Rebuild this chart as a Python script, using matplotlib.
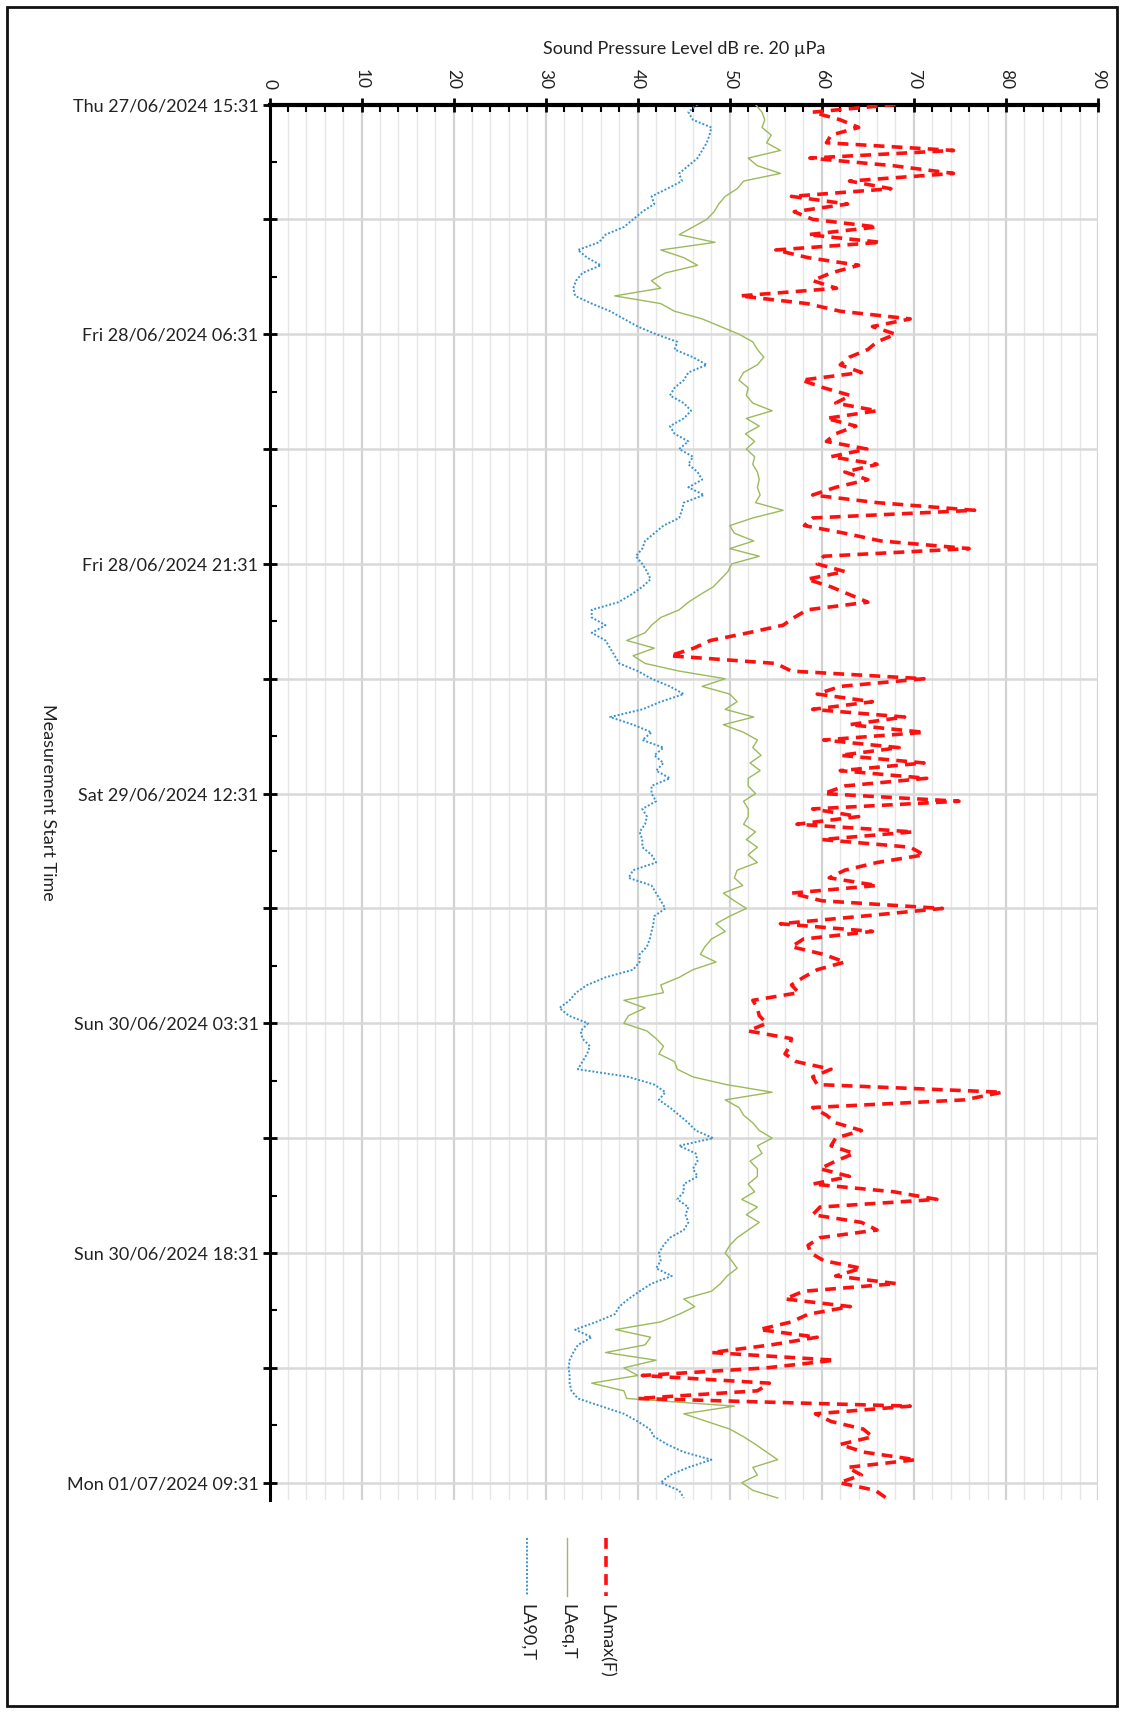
import matplotlib
matplotlib.use('Agg')
import matplotlib.pyplot as plt
from matplotlib.lines import Line2D
from matplotlib.patches import Rectangle
from matplotlib.ticker import FixedLocator, MultipleLocator, NullFormatter
import matplotlib.dates as mdates
from datetime import datetime, timedelta

plt.rcParams['font.family'] = ['Lato', 'DejaVu Sans']

# ---------------- data (30-minute samples from Thu 27/06/2024 15:31) ----------------
start_time = datetime(2024, 6, 27, 15, 31)
step_minutes = 30

la90 = [46.5, 45.5, 46, 48, 47.8, 47.5, 47, 46.5, 45.5, 44.5, 44.8, 43.2, 41.5, 41.8, 40.5, 39.5,
        38.5, 36.5, 35.8, 33.5, 34.5, 36, 34, 33.3, 33, 33.2, 35, 37, 38.5, 40, 42, 44.3,
        44, 46, 47.5, 45.5, 45, 44, 43.5, 45, 45.8, 45, 43.5, 44, 45.5, 44.5, 46, 45.5, 46.5,
        47, 45.5, 47.2, 45, 44.8, 44.5, 42.8, 41.8, 40.8, 40.5, 39.8, 40.5, 41, 41.4, 40.5, 39.3,
        37.9, 35, 35, 36.5, 35, 36.5, 37, 37.5, 38, 40, 41.5, 43.5, 45, 42.5, 40.5, 37, 39.5,
        41.5, 40.5, 42.8, 41.8, 42.8, 42, 43.5, 41.5, 41.5, 42, 40.5, 41, 40.8, 40.2, 40.5, 40.5,
        41.5, 42, 39.5, 39, 41.5, 42, 42.5, 43, 41.8, 41.7, 41.5, 41.3, 41, 40.2, 40.2, 39.5,
        36.5, 34.5, 33.3, 32.6, 31.5, 32.5, 34.6, 33.8, 34, 34.8, 34.5, 34, 33.5, 39, 41.8, 43,
        42.3, 43.5, 44.5, 45.5, 46.3, 48.2, 44.5, 46.3, 46.5, 46, 46.5, 45, 45, 44.3, 45.5, 45.2,
        45.5, 45, 43.5, 42.8, 42.3, 42.5, 42, 43.7, 41.5, 40.2, 39, 38, 37.5, 35.5, 33.2, 35, 33.5,
        33, 32.6, 32.5, 32.6, 32.6, 32.8, 33.5, 36, 38.5, 40, 41.3, 41.8, 43.2, 45, 48, 45.5,
        43.5, 42.5, 44.5, 45]

laeq = [52.8, 53.5, 53.8, 53.5, 54.5, 54, 55.5, 52, 53, 55.5, 51.5, 50.8, 49.5, 48.8, 48.3, 47.5,
        46, 44.5, 48.4, 42.5, 45, 46.5, 43, 41.5, 42.5, 37.5, 42.5, 44, 47, 49, 51, 52.5,
        53, 53.7, 53, 51.5, 51, 52, 51.8, 52.5, 54.6, 51.8, 53.2, 51.7, 52.7, 51.8, 52.7, 52.5,
        53, 53.2, 53, 53.3, 52.8, 55.8, 52.5, 50, 50.5, 52.6, 50, 53.2, 50.2, 49.8, 49, 48.2, 46.8,
        45.5, 44.5, 42.5, 41.5, 40.8, 38.8, 41.8, 39.5, 40.8, 44.5, 49.5, 47, 50, 50.8, 49.5, 52.6,
        49.3, 51.5, 53, 52.5, 53.4, 52.2, 53.3, 52, 52, 52.8, 51.5, 52, 52, 51.5, 52.8, 51.8, 53,
        52, 53, 50.8, 50.5, 51.4, 49.3, 50.5, 51.8, 50, 48.5, 49.5, 48, 47.3, 46.8, 48.5, 46,
        44.5, 42.5, 42.8, 38.5, 40.8, 39, 38.5, 41, 42, 42.8, 42.3, 44, 44.3, 46, 49.6, 54.6,
        49.5, 51, 51.5, 52.5, 53.2, 54.6, 53, 53.5, 52.2, 53, 53, 52, 52.7, 51.3, 53, 51.8,
        53.2, 52, 50.8, 50, 49.5, 50.2, 50.8, 49.7, 49, 48, 45, 46.2, 44.5, 42.5, 37.6, 41.4, 40.8,
        36.5, 42, 38.5, 40, 35, 38.5, 38.8, 50.5, 45, 47.5, 50, 51.5, 52.8, 54, 55.2, 52.5,
        53, 51.3, 52.5, 55.2]

lamax = [68, 59, 62, 64, 61, 60.5, 74.3, 58.7, 67.8, 74.3, 63, 67.5, 56.7, 62.8, 57, 59,
         66, 58.5, 66.4, 55, 58.5, 64, 61, 59, 61.6, 51.1, 58.4, 62, 69.6, 65.5, 68, 66,
         65, 63, 62, 64.3, 57.8, 60.2, 63.1, 61.5, 66, 60.5, 63.7, 61.5, 60.5, 64.9, 61, 66,
         62.5, 65, 61.5, 59, 66, 76.6, 59, 58.1, 62.5, 66.4, 76, 60.2, 59.5, 62.5, 58.4, 61, 63,
         65, 58.4, 57, 55.8, 52, 47.9, 46.1, 43.5, 55, 56.7, 71.1, 62, 59.5, 65.5, 59, 69,
         63, 71.1, 60.2, 68.4, 62, 71.1, 62, 71.4, 62.5, 60.2, 74.9, 59, 64, 57.3, 69.9, 60, 69.6,
         71.1, 66, 62.5, 60.8, 66, 56.7, 60, 73.1, 64.5, 55.5, 65.5, 58, 56.7, 60.2, 62.5, 59.5,
         58, 56.7, 57.5, 52.5, 53, 53.2, 54, 52, 56.7, 56.5, 56, 57.2, 61, 59, 59.5, 79.6,
         75.5, 59, 60.5, 61.5, 64.3, 61.5, 61, 63.5, 61.5, 59.8, 63, 59, 67.8, 72.5, 59.8, 59,
         64.3, 66, 59.8, 58.5, 58.8, 60.2, 64.3, 61.5, 68.1, 58, 56, 63.1, 58.5, 56.7, 53.2, 59.5, 54.5,
         48, 61.4, 54, 40.5, 54.3, 53, 40, 69.6, 59.3, 61, 64.5, 65.5, 62, 64.5, 70.2, 62.8,
         64.3, 61.9, 65.8, 67]

series_names = ['LAmax(F)', 'LAeq,T', 'LA90,T']
x_ticks = [0, 10, 20, 30, 40, 50, 60, 70, 80, 90]

times = [start_time + timedelta(minutes=step_minutes * i) for i in range(len(la90))]

# ---------------- figure ----------------
W, H = 1123, 1712
fig = plt.figure(figsize=(W / 100, H / 100), dpi=100)

def fx(px):
    return px / W

def fy(py):
    return 1 - py / H

ax_left, ax_right, ax_top, ax_bot = 269.5, 1098, 104.5, 1500
ax = fig.add_axes([fx(ax_left), fy(ax_bot), fx(ax_right - ax_left), (ax_bot - ax_top) / H])

red = '#ff1010'
green = '#9cba5a'
blue = '#3a93cf'

ax.plot(la90, times, color=blue, lw=1.4, linestyle=(0, (1, 1)), zorder=3)
ax.plot(laeq, times, color=green, lw=1.0, linestyle='-', zorder=3)
ax.plot(lamax, times, color=red, lw=2.6, linestyle=(0, (3, 2)), zorder=4)

# x axis (top)
ax.set_xlim(0, 90)
ax.xaxis.tick_top()
ax.xaxis.set_label_position('top')
ax.set_xticks(x_ticks)
ax.set_xticklabels([str(v) for v in x_ticks], rotation=-90, fontsize=12.5, color='#222222')
ax.xaxis.set_minor_locator(MultipleLocator(2))
ax.tick_params(axis='x', which='major', direction='inout', length=10, width=2, pad=6, top=True, bottom=False)
ax.tick_params(axis='x', which='minor', direction='in', length=5, width=1.5, top=True, bottom=False)
ax.set_xlabel('Sound Pressure Level dB re. 20 µPa', fontsize=13, labelpad=11, color='#222222')

# y axis (time downward)
t0 = mdates.date2num(start_time)
span_h = 91.13
ax.set_ylim(t0 + span_h / 24, t0)
major_pos = [t0 + 7.5 * k / 24 for k in range(13)]
minor_pos = [t0 + 3.75 * k / 24 for k in range(25)]
ax.yaxis.set_major_locator(FixedLocator(major_pos))
ax.yaxis.set_minor_locator(FixedLocator(minor_pos))
ylabels = []
for k, p in enumerate(major_pos):
    if k % 2 == 0:
        ylabels.append(mdates.num2date(p).strftime('%a %d/%m/%Y %H:%M'))
    else:
        ylabels.append('')
ax.set_yticklabels(ylabels, fontsize=13, color='#222222')
ax.yaxis.set_minor_formatter(NullFormatter())
ax.tick_params(axis='y', which='major', direction='inout', length=10, width=2, pad=3)
ax.tick_params(axis='y', which='minor', direction='in', length=5, width=1.5)

# grid
ax.grid(True, axis='x', which='minor', color='#e6e6e6', lw=1.0, zorder=0)
ax.grid(True, axis='x', which='major', color='#d2d2d2', lw=1.6, zorder=0)
ax.grid(True, axis='y', which='major', color='#d9d9d9', lw=1.8, zorder=0)
ax.set_axisbelow(True)

for s in ['right', 'bottom']:
    ax.spines[s].set_visible(False)
ax.spines['left'].set_linewidth(2.2)
ax.spines['top'].set_linewidth(3)

fig.text(fx(48), fy(802), 'Measurement Start Time', rotation=-90, ha='center', va='center',
         fontsize=13, color='#222222')

# legend (rotated)
legend_styles = [
    dict(color=red, lw=2.6, linestyle=(0, (3, 2))),
    dict(color=green, lw=1.0, linestyle='-'),
    dict(color=blue, lw=1.4, linestyle=(0, (1, 1))),
]
legend_x = [606, 567, 527]
for name, st, lx in zip(series_names, legend_styles, legend_x):
    fig.add_artist(Line2D([fx(lx), fx(lx)], [fy(1538), fy(1596)], transform=fig.transFigure, **st))
    fig.text(fx(lx), fy(1604), name, rotation=-90, ha='center', va='top', fontsize=13,
             color='#222222')

# outer frame
fig.add_artist(Rectangle((fx(7), fy(1706)), fx(1117 - 7), (1706 - 7) / H, transform=fig.transFigure,
                         fill=False, edgecolor='#111111', lw=2))

fig.savefig('out.png', dpi=100)
